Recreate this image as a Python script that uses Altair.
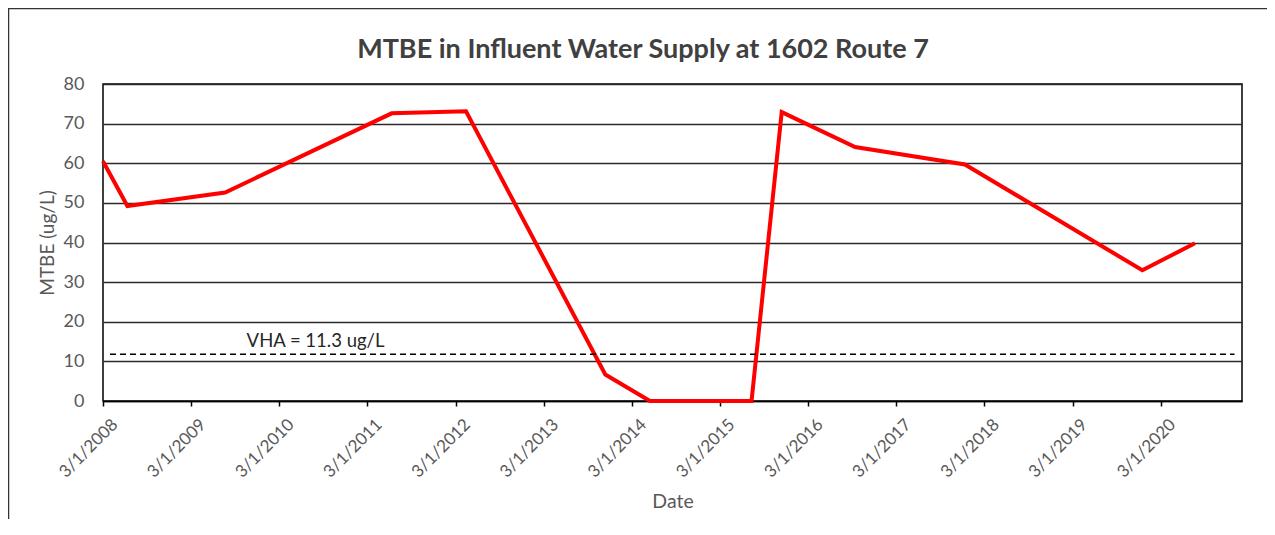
import altair as alt
import pandas as pd

# ---- data ----
sample_dates = ["2008-03-01", "2008-06-10", "2009-07-20", "2011-06-10", "2012-04-13",
                "2013-11-11", "2014-05-15", "2015-07-10", "2015-11-12", "2016-09-11",
                "2017-12-10", "2019-12-15", "2020-07-20"]
mtbe_values = [60.5, 49.2, 52.6, 72.6, 73.1, 6.7, 0.0, 0.0, 72.9, 64.1, 59.7, 33.0, 39.8]

tick_years = [2008, 2009, 2010, 2011, 2012, 2013, 2014, 2015, 2016, 2017, 2018, 2019, 2020]
y_ticks = [0, 10, 20, 30, 40, 50, 60, 70, 80]

vha_level = 11.8            # drawn level of the dashed VHA line
vha_label = "VHA = 11.3 ug/L"
vha_start = "2008-03-30"
vha_end = "2020-12-31"
vha_label_date = "2009-10-17"

title_text = "MTBE in Influent Water Supply at 1602 Route 7"
y_title = "MTBE (ug/L)"
x_title = "Date"

FONT = "Lato"
GREY = "#595959"

df = pd.DataFrame({"date": sample_dates, "mtbe": mtbe_values})

x_scale = alt.Scale(type="utc",
                    domain=[alt.DateTime(year=2008, month=3, date=1, utc=True),
                            alt.DateTime(year=2021, month=1, date=31, utc=True)],
                    nice=False)
y_scale = alt.Scale(domain=[0, 80], nice=False)

x_axis = alt.Axis(
    values=[alt.DateTime(year=y, month=3, date=1, utc=True) for y in tick_years],
    labelExpr="(utcmonth(datum.value) + 1) + '/' + utcdate(datum.value) + '/' + utcyear(datum.value)",
    grid=False, domain=True, domainColor="black", domainWidth=1.5,
    ticks=True, tickColor="black", tickSize=5, tickWidth=1.5,
    labelAngle=315, labelAlign="right", labelBaseline="top",
    labelPadding=10, labelOffset=6, labelOverlap=False,
    labelFont=FONT, labelFontSize=17, labelColor=GREY,
    title=x_title, titleFont=FONT, titleFontSize=19.5, titleFontWeight="normal",
    titleColor=GREY, titleY=106, titleBaseline="alphabetic",
)
y_axis = alt.Axis(
    values=y_ticks, grid=True, gridColor="#2b2b2b", gridWidth=1.5,
    domain=False, ticks=False, tickSize=0, labelPadding=19, labelOverlap=False,
    labelFont=FONT, labelFontSize=18, labelColor=GREY,
    title=y_title, titleFont=FONT, titleFontSize=19, titleFontWeight="normal",
    titleColor=GREY, titleAngle=270, titleX=-56, titleY=158.5,
    titleAlign="center", titleBaseline="middle",
)

line = alt.Chart(df).mark_line(color="#FF0000", strokeWidth=4).encode(
    x=alt.X("date:T", scale=x_scale, axis=x_axis),
    y=alt.Y("mtbe:Q", scale=y_scale, axis=y_axis),
)

vha_df = pd.DataFrame({"start": [vha_start], "end": [vha_end], "level": [vha_level],
                       "label_date": [vha_label_date], "label": [vha_label]})

vha_rule = alt.Chart(vha_df).mark_rule(color="black", strokeWidth=1.3, strokeDash=[6, 4]).encode(
    x=alt.X("start:T", scale=x_scale, axis=x_axis),
    x2="end:T",
    y=alt.Y("level:Q", scale=y_scale, axis=y_axis),
)
vha_text = alt.Chart(vha_df).mark_text(align="left", baseline="alphabetic", dy=-7,
                                        font=FONT, fontSize=18.5, color="#262626").encode(
    x=alt.X("label_date:T", scale=x_scale, axis=x_axis),
    y=alt.Y("level:Q", scale=y_scale, axis=y_axis),
    text="label:N",
)

title_df = pd.DataFrame({"t": [title_text]})
title = alt.Chart(title_df).mark_text(align="center", baseline="alphabetic", font=FONT,
                                      fontSize=27, fontWeight="bold", color="#404040").encode(
    x=alt.value(540), y=alt.value(-26), text="t:N")

border_df = pd.DataFrame({"a": [0]})
border_left = alt.Chart(border_df).mark_rule(color="#333333", strokeWidth=1.5).encode(
    x=alt.value(-94.5), y=alt.value(-76), y2=alt.value(440))
border_top = alt.Chart(border_df).mark_rule(color="#333333", strokeWidth=1.5).encode(
    x=alt.value(-95), x2=alt.value(1170), y=alt.value(-75.5))

chart = alt.layer(line, vha_rule, vha_text, title, border_left, border_top).properties(
    width=1139, height=317,
    autosize=alt.AutoSizeParams(type="none"),
    padding={"left": 95, "top": 76, "right": 25, "bottom": 118},
).configure(background="white").configure_view(stroke="black", strokeWidth=1.5)

chart.save("out.html", embed_options={"renderer": "svg", "actions": False})
